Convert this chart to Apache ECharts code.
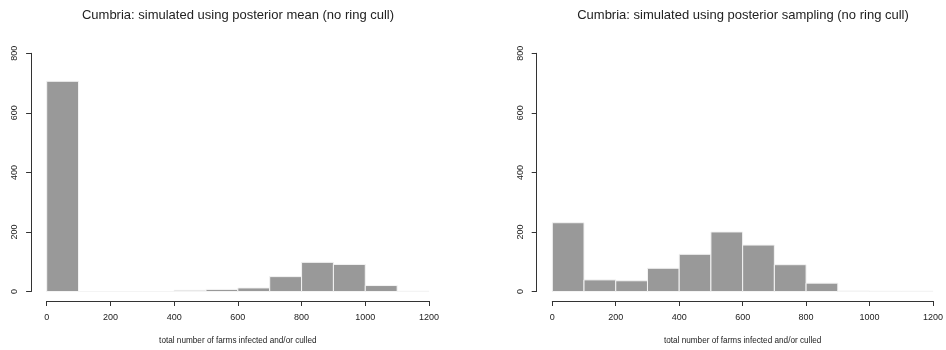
<!DOCTYPE html>
<html>
<head>
<meta charset="utf-8">
<script src="https://cdn.jsdelivr.net/npm/echarts@6/dist/echarts.min.js"></script>
<style>html,body{margin:0;padding:0;background:#fff}#c{width:946px;height:350px}</style>
</head>
<body>
<div id="c"></div>
<script>
// Histogram bin edges (shared)
const binStarts = [0, 100, 200, 300, 400, 500, 600, 700, 800, 900, 1000, 1100];
const binWidth = 100;
// Counts per bin
const meanCounts = [706, 0, 0, 0, 4, 7, 12, 50, 98, 91, 20, 1];
const samplingCounts = [231, 39, 36, 78, 125, 200, 156, 90, 28, 2, 1, 1];
const xTicks = [0, 200, 400, 600, 800, 1000, 1200];
const yTicks = [0, 200, 400, 600, 800];
const titles = [
  'Cumbria: simulated using posterior mean (no ring cull)',
  'Cumbria: simulated using posterior sampling (no ring cull)'
];
const xName = 'total number of farms infected and/or culled';

const FONT = '"Liberation Sans", Arial, sans-serif';
const chart = echarts.init(document.getElementById('c'), null, {renderer: 'canvas'});

const grids = [
  {left: 46.7, top: 53.3, width: 382.3, height: 239},
  {left: 552.3, top: 53.3, width: 381.7, height: 239}
];

function mkX(i) {
  return {
    type: 'value', gridIndex: i, min: xTicks[0], max: xTicks[xTicks.length - 1], interval: 200,
    offset: 9.5,
    axisLine: {show: true, onZero: false, lineStyle: {color: '#333', width: 1}},
    axisTick: {show: true, length: 5, lineStyle: {color: '#333'}},
    axisLabel: {fontSize: 9, color: '#222', fontFamily: FONT, margin: 12, formatter: v => String(v)},
    splitLine: {show: false},
    name: xName, nameLocation: 'middle', nameGap: 36,
    nameTextStyle: {fontSize: 8.2, color: '#222', fontFamily: FONT}
  };
}
function mkY(i) {
  return {
    type: 'value', gridIndex: i, min: yTicks[0], max: yTicks[yTicks.length - 1], interval: 200,
    offset: 15.6,
    axisLine: {show: true, onZero: false, lineStyle: {color: '#333', width: 1}},
    axisTick: {show: true, length: 5, lineStyle: {color: '#333'}},
    axisLabel: {fontSize: 9, color: '#222', fontFamily: FONT, rotate: 90, margin: 12, formatter: v => String(v)},
    splitLine: {show: false}
  };
}
function mkSeries(i, counts) {
  return {
    type: 'custom', xAxisIndex: i, yAxisIndex: i,
    data: binStarts.map((s, k) => [s, s + binWidth, counts[k]]),
    encode: {x: [0, 1], y: 2},
    renderItem: function (params, api) {
      const p0 = api.coord([api.value(0), api.value(2)]);
      const p1 = api.coord([api.value(1), 0]);
      return {
        type: 'rect',
        shape: {x: p0[0], y: p0[1], width: p1[0] - p0[0], height: p1[1] - p0[1]},
        style: {fill: '#999999', stroke: '#f4f4f4', lineWidth: 1}
      };
    }
  };
}

chart.setOption({
  animation: false,
  backgroundColor: '#fff',
  grid: grids,
  xAxis: [mkX(0), mkX(1)],
  yAxis: [mkY(0), mkY(1)],
  series: [mkSeries(0, meanCounts), mkSeries(1, samplingCounts)],
  graphic: [
    {type: 'text', x: 238, y: 15, style: {text: titles[0], font: '13px ' + FONT, fill: '#222', align: 'center', verticalAlign: 'middle'}},
    {type: 'text', x: 743, y: 15, style: {text: titles[1], font: '13px ' + FONT, fill: '#222', align: 'center', verticalAlign: 'middle'}}
  ]
});
</script>
</body>
</html>
